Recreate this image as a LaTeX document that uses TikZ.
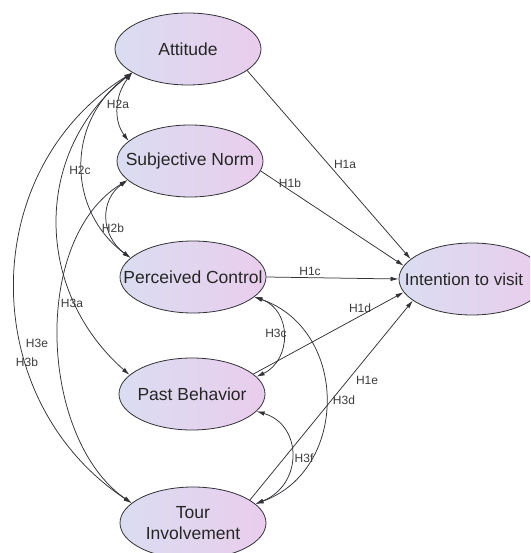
\documentclass[tikz,border=0pt]{standalone}
\usepackage{fontspec}
\setmainfont{Liberation Sans}
\usetikzlibrary{shapes.geometric,arrows.meta}
\definecolor{fillL}{RGB}{218,221,241}
\definecolor{fillR}{RGB}{233,205,236}
\definecolor{edgec}{RGB}{50,50,55}
\definecolor{labc}{RGB}{60,60,60}
\tikzset{
  var/.style={ellipse, draw=edgec, line width=0.8pt, minimum width=146pt, minimum height=72pt,
    inner sep=0pt, left color=fillL, right color=fillR},
  vartext/.style={font=\fontsize{17.5pt}{21pt}\selectfont, text=black!85, align=center, inner sep=0pt},
  hyp/.style={font=\fontsize{12pt}{14pt}\selectfont, text=labc, inner sep=0pt},
  path1/.style={draw=edgec, line width=0.75pt, -{Latex[length=8pt,width=4.5pt]}},
  corr/.style={draw=edgec, line width=0.75pt, {Latex[length=8pt,width=4.5pt]}-{Latex[length=8pt,width=4.5pt]}}
}
\begin{document}
\begin{tikzpicture}[x=1pt,y=-1pt]
\useasboundingbox (0,0) rectangle (530,553);
\clip (0,0) rectangle (530,553);
\fill[white] (0,0) rectangle (530,553);
% variables
\node[var, label={[vartext]center:Attitude}] (att) at (188,49) {};
\node[var, label={[vartext]center:Subjective Norm}] (sn) at (190,161) {};
\node[var, label={[vartext]center:Perceived Control}] (pc) at (193,277) {};
\node[var, label={[vartext]center:Past Behavior}] (pb) at (192,394) {};
\node[var, label={[vartext]center:Tour\\Involvement}] (ti) at (193,523) {};
\node[var, label={[vartext, font=\fontsize{17pt}{21pt}\selectfont, xshift=-8pt]center:Intention to visit}] (int) at (472,279) {};
% paths to intention
\draw[path1] (att.340) -- (int.162);
\draw[path1] (sn.352) -- (int.169);
\draw[path1] (pc.0) -- (int.180);
\draw[path1] (pb.18) -- (int.191);
\draw[path1] (ti.22) -- (int.200);
% correlations (left side)
\draw[corr] (att.203) .. controls (115,95) and (113,120) .. (sn.162);
\draw[corr] (att.203) .. controls (66,120) and (66,210) .. (pc.163);
\draw[corr] (att.203) .. controls (33,150) and (33,290) .. (pb.163);
\draw[corr] (att.203) .. controls (-24,170) and (-24,400) .. (ti.162);
\draw[corr] (sn.197) .. controls (100,200) and (100,235) .. (pc.163);
\draw[corr] (sn.197) .. controls (30,240) and (40,440) .. (ti.162);
% correlations (right side)
\draw[corr] (pc.-18) .. controls (292,310) and (292,360) .. (pb.15);
\draw[corr] (pc.-18) .. controls (349,330) and (349,470) .. (ti.17);
\draw[corr] (pb.-15) .. controls (303,425) and (303,485) .. (ti.17);
% labels
\node[hyp] (l2a) at (118,104) {H2a};
\node[hyp] (l1a) at (345,164) {H1a};
\node[hyp] (l2c) at (80,170) {H2c};
\node[hyp] (l1b) at (290,183) {H1b};
\node[hyp] (l2b) at (113,228) {H2b};
\node[hyp] (l1c) at (310,271) {H1c};
\node[hyp] (l3a) at (72,303) {H3a};
\node[hyp] (l1d) at (360,308) {H1d};
\node[hyp] (l3c) at (276,333) {H3c};
\node[hyp] (l3e) at (37,343) {H3e};
\node[hyp] (l3b) at (27,362) {H3b};
\node[hyp] (l1e) at (367,380) {H1e};
\node[hyp] (l3d) at (344,400) {H3d};
\node[hyp] (l3f) at (304,458) {H3f};
\end{tikzpicture}
\end{document}
